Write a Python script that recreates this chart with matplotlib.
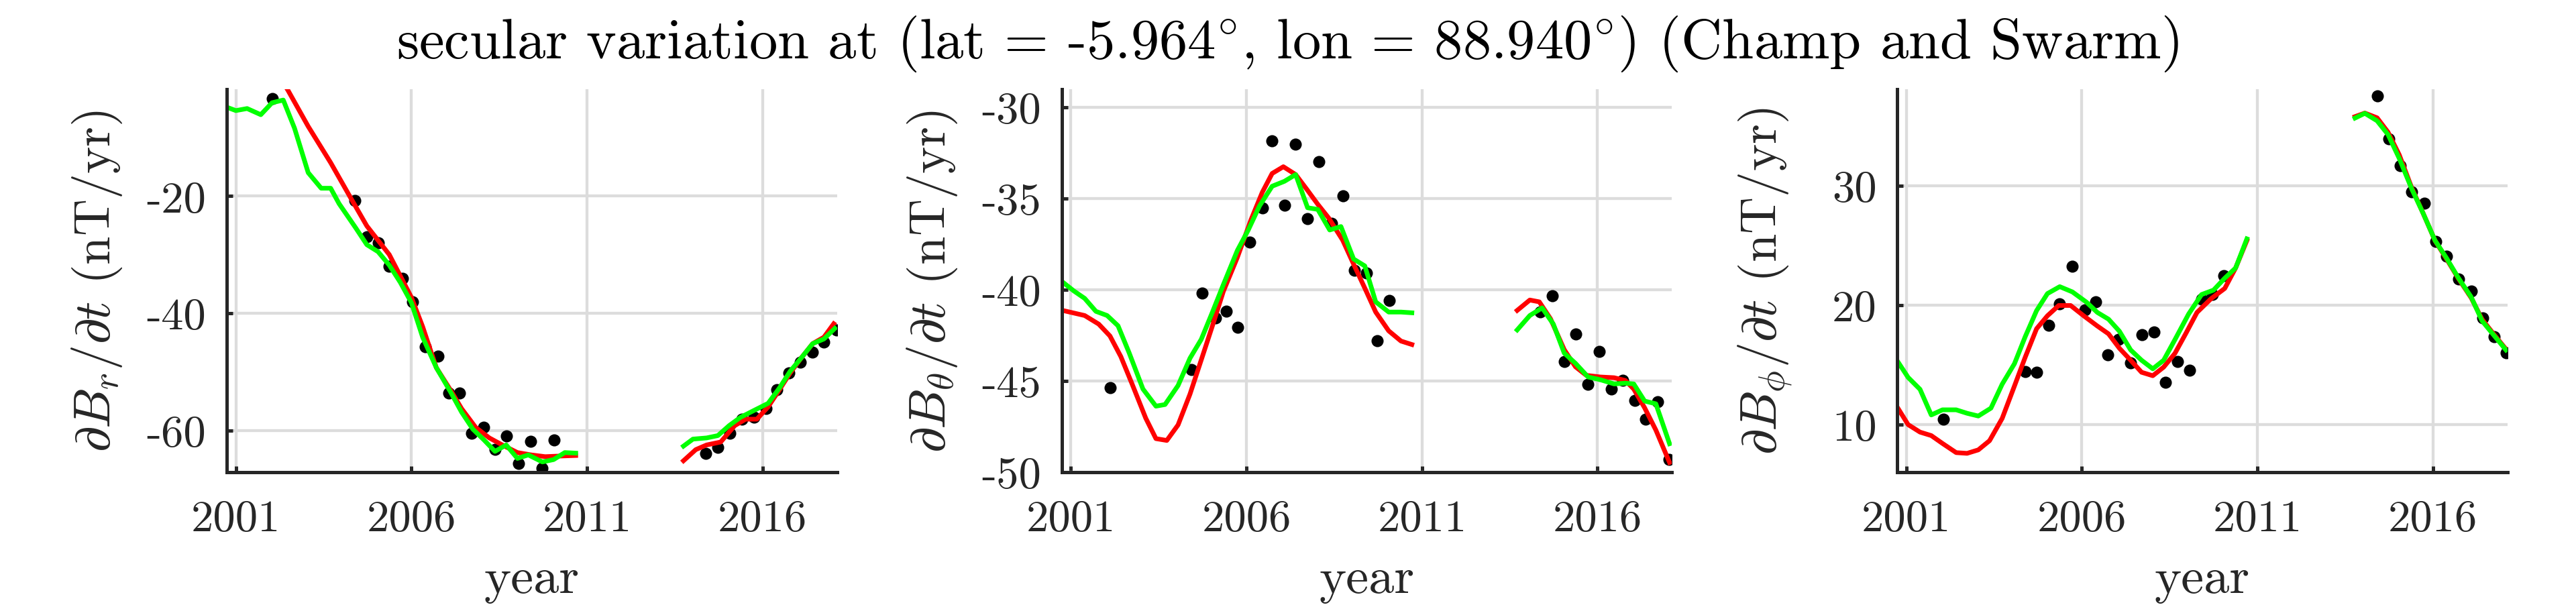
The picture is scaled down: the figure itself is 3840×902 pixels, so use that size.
import numpy as np
import matplotlib
matplotlib.use("Agg")
import matplotlib.pyplot as plt

nan = np.nan

# years shown on the x axis
year_ticks = [2001, 2006, 2011, 2016]

# dB_r/dt
r_dot_t = [2002.03, 2004.38, 2004.73, 2005.05, 2005.37, 2005.75, 2006.03, 2006.40, 2006.75, 2007.06,
           2007.38, 2007.71, 2008.06, 2008.38, 2008.71, 2009.05, 2009.40, 2009.73, 2010.06,
           2014.38, 2014.73, 2015.08, 2015.41, 2015.76, 2016.10, 2016.41, 2016.75, 2017.08,
           2017.43, 2017.75, 2018.10]
r_dot_v = [-3.4, -20.8, -26.9, -28.0, -32.0, -34.1, -38.1, -45.7, -47.3, -53.6,
           -53.6, -60.5, -59.5, -63.3, -61.0, -65.7, -61.9, -66.5, -61.6,
           -63.9, -62.9, -60.5, -58.1, -57.8, -56.3, -53.1, -50.2, -48.4,
           -46.6, -44.9, -42.9]
r_red_t = [2002.2, 2002.48, 2003.06, 2003.70, 2004.25, 2004.73, 2005.37, 2006.0, 2006.32, 2006.71,
           2007.11, 2007.43, 2007.83, 2008.22, 2008.62, 2009.02, 2009.41, 2009.81, 2010.21, 2010.68,
           nan, 2013.75, 2014.10, 2014.41, 2014.81, 2015.21, 2015.52, 2015.84, 2016.16, 2016.48,
           2016.79, 2017.11, 2017.43, 2017.75, 2018.03]
r_red_v = [0.8, -1.9, -8.1, -14.3, -20.1, -25.1, -30.0, -37.3, -42.3, -49.3,
           -53.1, -56.3, -59.5, -61.3, -62.6, -63.8, -64.2, -64.5, -64.4, -64.3,
           nan, -65.2, -63.3, -62.5, -62.0, -59.2, -58.1, -58.1, -56.0, -53.1,
           -50.2, -47.6, -45.2, -44.1, -41.8]
r_green_t = [2000.73, 2001.0, 2001.32, 2001.71, 2002.03, 2002.35, 2002.67, 2003.06, 2003.43, 2003.70,
             2003.94, 2004.41, 2004.73, 2005.05, 2005.37, 2005.68, 2006.0, 2006.32, 2006.71, 2007.11,
             2007.43, 2007.75, 2008.06, 2008.38, 2008.70, 2009.02, 2009.33, 2009.73, 2010.05, 2010.37,
             2010.68, nan, 2013.75, 2014.02, 2014.41, 2014.73, 2015.05, 2015.37, 2015.76, 2016.16,
             2016.48, 2016.79, 2017.11, 2017.43, 2017.75, 2018.06]
r_green_v = [-4.8, -5.4, -5.05, -6.1, -4.06, -3.6, -8.4, -16.0, -18.66, -18.66,
             -21.3, -25.4, -28.3, -29.5, -31.8, -34.7, -38.2, -44.1, -49.3, -53.4,
             -56.9, -59.8, -61.6, -63.6, -62.5, -64.8, -64.2, -65.4, -65.0, -63.8,
             -63.9, nan, -62.7, -61.5, -61.3, -60.9, -59.2, -57.8, -56.6, -55.4,
             -52.8, -49.9, -47.6, -45.2, -44.4, -42.6]

# dB_theta/dt
th_dot_t = [2002.11, 2004.43, 2004.74, 2005.11, 2005.42, 2005.75, 2006.10, 2006.45, 2006.73, 2007.08,
            2007.40, 2007.74, 2008.07, 2008.42, 2008.74, 2009.07, 2009.42, 2009.73, 2010.06,
            2014.37, 2014.72, 2015.05, 2015.38, 2015.73, 2016.05, 2016.40, 2016.71, 2017.06,
            2017.37, 2017.71, 2018.04]
th_dot_v = [-45.35, -44.37, -40.19, -41.56, -41.18, -42.06, -37.37, -35.50, -31.84, -35.37,
            -32.03, -36.10, -32.96, -36.34, -34.84, -38.93, -39.06, -42.81, -40.60,
            -41.22, -40.32, -43.94, -42.44, -45.20, -43.38, -45.44, -44.97, -46.06,
            -47.09, -46.14, -49.29]
th_red_t = [2000.76, 2001.39, 2001.79, 2002.11, 2002.42, 2002.74, 2003.13, 2003.42, 2003.73, 2004.05,
            2004.39, 2004.71, 2005.03, 2005.34, 2005.74, 2006.13, 2006.45, 2006.73, 2007.05, 2007.40,
            2007.71, 2008.03, 2008.34, 2008.74, 2009.05, 2009.37, 2009.68, 2010.05, 2010.40, 2010.71,
            nan, 2013.71, 2014.07, 2014.34, 2014.66, 2015.05, 2015.37, 2015.68, 2016.08, 2016.47,
            2016.79, 2017.03, 2017.34, 2017.66, 2018.05]
th_red_v = [-41.13, -41.41, -41.88, -42.53, -43.66, -45.16, -47.04, -48.16, -48.26, -47.41,
            -45.72, -43.85, -41.97, -40.09, -38.22, -36.15, -34.65, -33.62, -33.25, -33.68,
            -34.47, -35.31, -36.06, -37.28, -38.59, -39.91, -41.22, -42.25, -42.81, -43.00,
            nan, -41.13, -40.56, -40.66, -41.59, -43.28, -44.22, -44.69, -44.78, -44.82,
            -44.97, -45.44, -46.47, -47.69, -49.47]
th_green_t = [2000.76, 2001.08, 2001.39, 2001.71, 2002.03, 2002.34, 2002.66, 2003.05, 2003.42, 2003.68,
              2004.05, 2004.39, 2004.71, 2005.03, 2005.34, 2005.74, 2006.05, 2006.37, 2006.73, 2007.08,
              2007.40, 2007.74, 2008.03, 2008.37, 2008.69, 2009.05, 2009.37, 2009.68, 2010.05, 2010.40,
              2010.71, nan, 2013.71, 2014.07, 2014.42, 2014.74, 2015.05, 2015.37, 2015.73, 2016.08,
              2016.47, 2016.79, 2017.03, 2017.34, 2017.66, 2018.05]
th_green_v = [-39.57, -40.06, -40.47, -41.18, -41.41, -41.97, -43.47, -45.44, -46.38, -46.29,
              -45.25, -43.75, -42.72, -41.22, -39.72, -37.84, -36.72, -35.40, -34.32, -34.05,
              -33.68, -35.50, -35.59, -36.72, -36.53, -38.31, -38.69, -40.66, -41.22, -41.22,
              -41.26, nan, -42.20, -41.41, -40.99, -41.88, -43.47, -44.03, -44.78, -44.93,
              -45.16, -45.12, -45.16, -46.10, -46.25, -48.44]

# dB_phi/dt
ph_dot_t = [2002.06, 2004.39, 2004.71, 2005.05, 2005.37, 2005.73, 2006.08, 2006.39, 2006.73, 2007.04,
            2007.39, 2007.72, 2008.05, 2008.38, 2008.73, 2009.06, 2009.41, 2009.72, 2010.05,
            2014.41, 2014.74, 2015.07, 2015.40, 2015.75, 2016.08, 2016.39, 2016.74, 2017.09,
            2017.42, 2017.75, 2018.08]
ph_dot_v = [10.43, 14.42, 14.36, 18.32, 20.1, 23.26, 19.61, 20.24, 15.85, 17.14,
            15.14, 17.52, 17.72, 13.50, 15.28, 14.51, 20.47, 20.88, 22.45,
            37.55, 33.96, 31.66, 29.48, 28.51, 25.35, 24.12, 22.19, 21.19,
            18.90, 17.37, 16.00]
ph_red_t = [2000.73, 2001.05, 2001.39, 2001.71, 2002.03, 2002.42, 2002.73, 2003.05, 2003.37, 2003.73,
            2004.08, 2004.39, 2004.71, 2005.02, 2005.34, 2005.68, 2006.05, 2006.44, 2006.76, 2007.07,
            2007.39, 2007.70, 2008.02, 2008.33, 2008.65, 2008.97, 2009.28, 2009.68, 2010.07, 2010.38,
            2010.70, nan, 2013.78, 2014.06, 2014.41, 2014.72, 2015.04, 2015.40, 2015.72, 2016.06,
            2016.38, 2016.73, 2017.09, 2017.40, 2017.72, 2018.08]
ph_red_v = [11.49, 9.97, 9.34, 9.05, 8.39, 7.62, 7.56, 7.85, 8.62, 10.49,
            13.21, 15.65, 18.01, 19.10, 19.96, 19.96, 19.10, 18.24, 17.58, 16.37,
            15.37, 14.36, 14.07, 14.79, 15.94, 17.66, 19.38, 20.53, 21.39, 23.11,
            25.41, nan, 35.8, 36.1, 35.7, 34.5, 32.6, 29.8, 27.7, 25.4,
            23.9, 22.2, 20.6, 18.8, 17.6, 16.3]
ph_green_t = [2000.73, 2001.05, 2001.39, 2001.71, 2002.03, 2002.42, 2002.73, 2003.05, 2003.41, 2003.73,
              2004.08, 2004.39, 2004.71, 2005.02, 2005.37, 2005.73, 2006.13, 2006.44, 2006.76, 2007.07,
              2007.39, 2007.70, 2008.02, 2008.33, 2008.65, 2009.04, 2009.41, 2009.75, 2010.07, 2010.38,
              2010.70, nan, 2013.78, 2014.06, 2014.41, 2014.72, 2015.04, 2015.40, 2015.72, 2016.06,
              2016.38, 2016.73, 2017.09, 2017.40, 2017.72, 2018.08]
ph_green_v = [15.37, 13.93, 12.93, 10.78, 11.21, 11.21, 10.92, 10.69, 11.35, 13.36,
              15.08, 17.37, 19.53, 20.96, 21.54, 21.10, 20.24, 19.38, 18.81, 17.80,
              16.23, 15.37, 14.65, 15.37, 17.09, 19.24, 20.88, 21.25, 22.25, 23.11,
              25.55, nan, 35.68, 36.08, 35.45, 34.30, 32.30, 29.71, 27.70, 25.41,
              23.97, 22.25, 20.67, 18.67, 17.52, 16.23]

title_text = r"secular variation at (lat = -5.964$^{\circ}$, lon = 88.940$^{\circ}$) (Champ and Swarm)"

plt.rcParams["font.family"] = ["cmr10", "DejaVu Serif"]
plt.rcParams["mathtext.fontset"] = "cm"
plt.rcParams["axes.unicode_minus"] = False
plt.rcParams["axes.formatter.use_mathtext"] = True

TXT = "#262626"


def panel(ax, dot_t, dot_v, red_t, red_v, green_t, green_v, ylim, yticks, ylabel):
    ax.plot(dot_t, dot_v, "o", color="black", markersize=13, markeredgewidth=0, zorder=3)
    ax.plot(red_t, red_v, color="#ff0000", linewidth=5, zorder=4)
    ax.plot(green_t, green_v, color="#00ff00", linewidth=5, zorder=5)

    ax.set_xlim(2000.74, 2018.12)
    ax.set_ylim(ylim)
    ax.set_xticks(year_ticks)
    ax.set_xticklabels([str(y) for y in year_ticks])
    ax.set_yticks(yticks)
    ax.set_yticklabels([str(v) for v in yticks])

    # light matlab-like grid under everything
    ax.grid(True, color="#dcdcdc", linewidth=3.1, zorder=0)
    ax.set_axisbelow(True)
    for s in ["top", "right"]:
        ax.spines[s].set_visible(False)
    for s in ["left", "bottom"]:
        ax.spines[s].set_linewidth(3.6)
        ax.spines[s].set_color(TXT)
        ax.spines[s].set_zorder(6)
    ax.tick_params(direction="in", length=6.5, width=3.6, color=TXT,
                   labelsize=48, labelcolor=TXT)
    ax.tick_params(axis="x", pad=29)
    ax.tick_params(axis="y", pad=22)

    ax.set_ylabel(ylabel, fontsize=55, color=TXT)
    ax.yaxis.set_label_coords(-0.168, 0.5)
    ax.set_xlabel("year", fontsize=55, color=TXT)
    ax.xaxis.label.set_va("baseline")
    ax.xaxis.set_label_coords(0.5, -0.3135)


fig = plt.figure(figsize=(38.41, 9.03), dpi=100)
bottom = 0.2193
height = 0.6323
width = 0.2368
ax1 = fig.add_axes([0.0880, bottom, width, height])
ax2 = fig.add_axes([0.4121, bottom, width, height])
ax3 = fig.add_axes([0.7363, bottom, width, height])

panel(ax1, r_dot_t, r_dot_v, r_red_t, r_red_v, r_green_t, r_green_v,
      (-67.15, -1.75), [-60, -40, -20], r"$\partial B_r/\partial t$ (nT/yr)")
panel(ax2, th_dot_t, th_dot_v, th_red_t, th_red_v, th_green_t, th_green_v,
      (-50, -29), [-50, -45, -40, -35, -30], r"$\partial B_\theta/\partial t$ (nT/yr)")
panel(ax3, ph_dot_t, ph_dot_v, ph_red_t, ph_red_v, ph_green_t, ph_green_v,
      (5.98, 38.1), [10, 20, 30], r"$\partial B_\phi/\partial t$ (nT/yr)")

fig.text(0.4996, 1 - 87 / 903, title_text, ha="center", va="baseline", fontsize=61, color="black")

fig.savefig("out.png", dpi=100)
